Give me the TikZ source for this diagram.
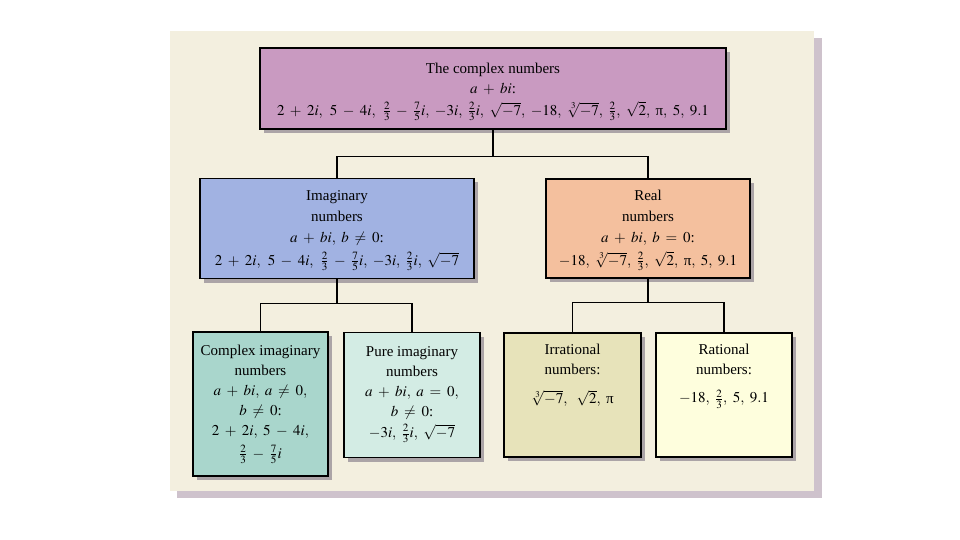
\documentclass[tikz,border=0pt]{standalone}
\usepackage{mathptmx}
\usepackage{fontspec}
\setmainfont{Liberation Serif}
\usetikzlibrary{shadows,calc}
\definecolor{panelbg}{HTML}{F3EFDF}
\definecolor{panelsh}{HTML}{CEC2CC}
\definecolor{ctop}{HTML}{C99AC1}
\definecolor{cimag}{HTML}{A1B2E2}
\definecolor{creal}{HTML}{F4C09E}
\definecolor{ccomp}{HTML}{A9D6CC}
\definecolor{cpure}{HTML}{D3ECE4}
\definecolor{cirr}{HTML}{E7E3BA}
\definecolor{crat}{HTML}{FEFEDD}
\definecolor{boxsh}{HTML}{ABA4A7}
\medmuskip=6.5mu
\thickmuskip=7mu
\newcommand{\cs}{,\ }
\newcommand{\upi}{\mbox{π}}
\begin{document}
\begin{tikzpicture}[x=1pt,y=-1pt,
  box/.style={draw=black, line width=1.4pt, inner sep=0pt, align=center,
    font=\fontsize{15}{20}\selectfont,
    drop shadow={shadow xshift=4pt, shadow yshift=-4pt, fill=boxsh, opacity=1}},
  wide/.style={font=\fontsize{15}{21}\selectfont},
  txt/.style={inner sep=0pt, align=center, font=\fontsize{15}{20}\selectfont},
  link/.style={draw=black, line width=1.4pt}]
\useasboundingbox (0,0) rectangle (960,540);
\fill[white] (0,0) rectangle (960,540);
\fill[panelsh] (177,38) rectangle (822,498);
\fill[panelbg] (170,31) rectangle (814,491);

\node[box, fill=ctop, minimum width=466pt, minimum height=81pt] (top) at (493,88.5)
  {\rule{0pt}{16.5pt}The complex numbers\\ $a+bi$:\\[2pt]
   $2+2i\cs\,5-4i\cs\,\frac{2}{3}-\frac{7}{5}i\cs-3i\cs\frac{2}{3}i\cs\sqrt{-7}\cs-18\cs\sqrt[3]{-7}\cs\frac{2}{3}\cs\sqrt{2}\cs\upi\cs5\cs9.1$};

\node[box, wide, fill=cimag, minimum width=274pt, minimum height=100pt] (imag) at (337,228.5)
  {\rule{0pt}{14pt}Imaginary\\ numbers\\ $a+bi\cs b\neq 0$:\\[2pt]
   $2+2i\cs\,5-4i\cs\,\frac{2}{3}-\frac{7}{5}i\cs-3i\cs\frac{2}{3}i\cs\sqrt{-7}$};

\node[box, wide, fill=creal, minimum width=204pt, minimum height=99pt] (real) at (648,228.5)
  {\rule{0pt}{14pt}Real\\ numbers\\ $a+bi\cs b=0$:\\[2pt]
   $-18\cs\sqrt[3]{-7}\cs\frac{2}{3}\cs\sqrt{2}\cs\upi\cs5\cs9.1$};

\node[box, fill=ccomp, minimum width=135pt, minimum height=144pt] (comp) at (260.5,404)
  {Complex imaginary\\ numbers\\ $a+bi\cs a\neq 0,$\\ $b\neq 0$:\\ $2+2i\cs5-4i,$\\[3pt] $\frac{2}{3}-\frac{7}{5}i$};

\node[box, fill=cpure, minimum width=136pt, minimum height=125pt] (pure) at (412,395)
  {Pure imaginary\\ numbers\\ $a+bi\cs a=0,$\\ $b\neq 0$:\\[1pt] $-3i\cs\frac{2}{3}i\cs\sqrt{-7}$};

\node[box, fill=cirr, minimum width=137pt, minimum height=124pt] (irr) at (572.5,395) {};
\node[txt, anchor=north] (irrt) at ([yshift=-12pt]irr.north)
  {Irrational\\ numbers:\\[9pt] $\sqrt[3]{-7}\cs\ \sqrt{2}\cs\upi$};

\node[box, fill=crat, minimum width=136pt, minimum height=124pt] (rat) at (724,395) {};
\node[txt, anchor=north] (ratt) at ([yshift=-12pt]rat.north)
  {Rational\\ numbers:\\[8pt] $-18\cs\frac{2}{3}\cs5\cs9.1$};

\coordinate (j1) at ($(top.south)+(0,27)$);
\path[link] (top.south) -- (j1);
\path[link] (j1) -| (imag.north);
\path[link] (j1) -| (real.north);
\coordinate (j2) at ($(imag.south)+(0,24)$);
\path[link] (imag.south) -- (j2);
\path[link] (j2) -| (comp.north);
\path[link] (j2) -| (pure.north);
\coordinate (j3) at ($(real.south)+(0,24)$);
\path[link] (real.south) -- (j3);
\path[link] (j3) -| (irr.north);
\path[link] (j3) -| (rat.north);
\end{tikzpicture}
\end{document}
